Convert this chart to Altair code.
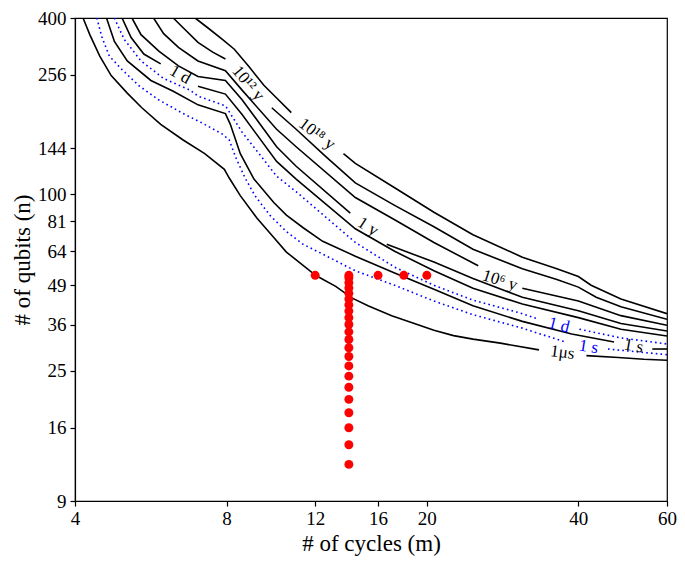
import altair as alt
import pandas as pd

# ---- contour lines (m = cycles, n = qubits); *_gap = index where a new segment starts (label gap)
us1_m = [4.15, 4.28, 4.48, 4.72, 5.08, 5.43, 5.92, 6.56, 7.24, 7.92, 8.10, 8.52, 9.19, 9.93, 10.52, 12.04, 13.18, 14.22, 15.28, 17.03, 19.14, 20.66, 22.6, 24.7, 28.0, 33.4, 41.5, 48.0, 54.0, 60.0]
us1_n = [400, 351, 296.6, 254.5, 221.7, 197.6, 173.5, 153.4, 137.8, 121.9, 113.8, 99.1, 83.1, 71.3, 63.6, 52.9, 48.6, 44.3, 41.7, 38.6, 36.0, 34.4, 33.0, 32.1, 31.1, 29.5, 28.2, 27.8, 27.4, 27.2]
us1_gap = [26]

bs1_m = [4.42, 4.52, 4.68, 4.94, 5.36, 5.86, 6.56, 7.18, 7.85, 8.10, 8.33, 8.71, 9.11, 9.75, 10.52, 11.36, 12.42, 14.42, 17.26, 20.66, 24.7, 30.96, 37.6, 45.8, 60.0]
bs1_n = [400, 345.7, 296.6, 268.5, 234.9, 210.5, 188.8, 174.8, 160.7, 153.4, 134.7, 113.8, 99.1, 85.0, 74.7, 67.6, 62.6, 54.9, 49.0, 43.3, 38.9, 35.0, 31.4, 29.7, 28.4]
bs1_gap = [23]

s1_m = [4.62, 4.79, 5.08, 5.66, 6.27, 7.02, 7.96, 8.14, 8.52, 9.07, 9.93, 10.52, 11.36, 12.42, 14.42, 17.26, 20.66, 24.7, 30.96, 38.8, 47.1, 56.1, 60.0]
s1_n = [400, 332.8, 285.5, 244.9, 225.1, 202.2, 188.8, 173.5, 137.8, 112.9, 93.9, 85.0, 77.0, 69.2, 61.6, 54.0, 47.5, 41.7, 36.9, 33.4, 31.4, 29.7, 29.7]
s1_gap = [21]

bd1_m = [4.79, 5.01, 5.41, 6.00, 6.77, 7.02, 7.96, 8.59, 10.06, 11.0, 14.42, 17.26, 20.66, 24.7, 30.5, 33.1, 40.2, 48.6, 60.0]
bd1_n = [400, 338, 285.5, 248.7, 227.0, 216.6, 200.6, 163.2, 115.5, 102.2, 68.6, 56.5, 49.0, 43.6, 39.5, 37.7, 34.7, 32.4, 30.9]
bd1_gap = [16]

d1_m = [4.96, 5.17, 5.48, 5.92, 7.02, 7.96, 8.59, 10.06, 11.0, 14.42, 17.26, 20.66, 24.7, 30.96, 40.0, 48.6, 60.0]
d1_n = [400, 343.2, 301.4, 279.0, 234.0, 220.0, 187.3, 129.6, 112.9, 76.4, 64.0, 54.9, 47.9, 42.3, 38.0, 34.7, 32.9]
d1_gap = [4]

y1_m = [5.19, 5.41, 5.87, 6.42, 7.02, 7.96, 8.59, 10.06, 11.0, 14.09, 16.65, 20.66, 24.7, 30.96, 40.0, 48.6, 60.0]
y1_n = [400, 351, 308.2, 274.7, 252.6, 244.9, 210.5, 145.5, 124.8, 86.4, 67.6, 58.8, 51.7, 44.6, 40.1, 36.3, 34.2]
y1_gap = [10]

y6_m = [5.73, 6.00, 6.42, 7.02, 7.96, 8.59, 10.06, 11.0, 14.42, 17.26, 20.66, 25.3, 30.96, 40.0, 48.6, 60.0]
y6_n = [400, 353.8, 317.8, 285.5, 264.4, 227.0, 166.9, 145.5, 97.6, 82.0, 68.6, 57.1, 47.9, 43.3, 38.6, 35.8]
y6_gap = [12]

y12_m = [6.27, 6.56, 7.02, 7.51, 7.96, 9.84, 11.0, 12.6, 14.42, 17.26, 20.66, 24.7, 30.96, 36.25, 40.0, 43.4, 48.6, 60.0]
y12_n = [400, 370.5, 330.2, 305.8, 290, 197.6, 166.9, 134.7, 109.5, 91.8, 77.6, 65.0, 55.8, 51.3, 48.3, 44.6, 41.4, 37.5]
y12_gap = [5]

y18_m = [6.93, 7.34, 7.85, 8.29, 8.87, 9.49, 10.06, 10.76, 13.66, 14.42, 17.26, 20.66, 24.7, 30.96, 36.25, 40.0, 42.4, 48.6, 60.0]
y18_n = [400, 370.5, 338, 313, 272.6, 235.7, 213.4, 190.2, 137.8, 127.6, 105.4, 87.0, 72.9, 61.1, 55.8, 52.5, 49.0, 44.0, 39.2]
y18_gap = [8]

# ---- contour labels
lab_text = ["1μs", "1 s", "1 s", "1 d", "1 d", "1 y", "10⁶ y", "10¹² y", "10¹⁸ y"]
lab_m = [37.2, 41.9, 51.5, 36.6, 6.47, 15.28, 27.93, 8.83, 12.1]
lab_n = [28.9, 30.2, 30.4, 35.8, 256.4, 77.6, 50.9, 239.4, 160.7]
lab_angle = [7, 9, 10, 14, 30, 33, 18, 50, 37]
lab_color = ["black", "#0000ff", "black", "#0000ff", "black", "black", "black", "black", "black"]

# ---- experiment points
dot_m = [14] * 21 + [14, 12, 16, 18, 20]
dot_n = [12, 14, 16, 18, 20, 22, 24, 26, 28, 30, 32, 34, 36, 38, 40, 42, 44, 46, 48, 50, 52] + [53, 53, 53, 53, 53]

x_ticks = [4, 8, 12, 16, 20, 40, 60]
y_ticks = [9, 16, 25, 36, 49, 64, 81, 100, 144, 256, 400]


def build(specs):
    rows = []
    for name, ms, ns, gaps in specs:
        seg = 0
        for i, (a, b) in enumerate(zip(ms, ns)):
            if i in gaps:
                seg += 1
            rows.append({"key": f"{name}-{seg}", "m": a, "n": b, "i": i})
    return pd.DataFrame(rows)


black_df = build([
    ("us1", us1_m, us1_n, us1_gap),
    ("s1", s1_m, s1_n, s1_gap),
    ("d1", d1_m, d1_n, d1_gap),
    ("y1", y1_m, y1_n, y1_gap),
    ("y6", y6_m, y6_n, y6_gap),
    ("y12", y12_m, y12_n, y12_gap),
    ("y18", y18_m, y18_n, y18_gap),
])
blue_df = build([
    ("bs1", bs1_m, bs1_n, bs1_gap),
    ("bd1", bd1_m, bd1_n, bd1_gap),
])
lab_df = pd.DataFrame({"m": lab_m, "n": lab_n, "t": lab_text, "a": lab_angle, "c": lab_color})
dot_df = pd.DataFrame({"m": dot_m, "n": dot_n})

FONT = "Liberation Serif"
xs = alt.Scale(type="log", domain=[4, 60], nice=False)
ys = alt.Scale(type="log", domain=[9, 400], nice=False)
xax = alt.Axis(values=x_ticks, format="d", grid=False, title="# of cycles (m)", tickSize=5,
               labelFlush=False, labelOverlap=False, labelPadding=3, titlePadding=4)
yax = alt.Axis(values=y_ticks, format="d", grid=False, title="# of qubits (n)", tickSize=5,
               labelFlush=False, labelOverlap=False, labelPadding=4, titlePadding=3)

X = alt.X("m:Q", scale=xs, axis=xax)
Y = alt.Y("n:Q", scale=ys, axis=yax)

black = alt.Chart(black_df).mark_line(color="black", strokeWidth=1.6, clip=True).encode(
    x=X, y=Y, detail="key:N", order="i:Q")
blue = alt.Chart(blue_df).mark_line(color="#0000ff", strokeWidth=1.6, strokeDash=[1.6, 3.2], clip=True).encode(
    x=X, y=Y, detail="key:N", order="i:Q")
dots = alt.Chart(dot_df).mark_circle(color="#ff0000", size=80, opacity=1).encode(x=X, y=Y)
labels = alt.Chart(lab_df).mark_text(font=FONT, fontSize=17).encode(
    x=X, y=Y, text="t:N",
    angle=alt.Angle("a:Q", scale=None),
    color=alt.Color("c:N", scale=None))

chart = alt.layer(black, blue, dots, labels).properties(
    width=592, height=483,
    autosize=alt.AutoSizeParams(type="none"),
    padding={"left": 67, "top": 10, "right": 10, "bottom": 56},
).configure_view(stroke="black", strokeWidth=1.2).configure_axis(
    domainColor="black", tickColor="black", labelColor="black", titleColor="black",
    labelFont=FONT, titleFont=FONT, labelFontSize=19, titleFontSize=23, titleFontWeight="normal",
    domainWidth=1.2, tickWidth=1.2)

chart.save("out.html", embed_options={"renderer": "svg", "actions": False})
